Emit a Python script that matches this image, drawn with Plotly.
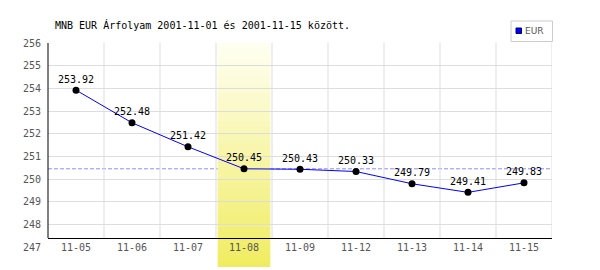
import plotly.graph_objects as go

# ---- data ----
dates = ["11-05", "11-06", "11-07", "11-08", "11-09", "11-12", "11-13", "11-14", "11-15"]
rates = [253.92, 252.48, 251.42, 250.45, 250.43, 250.33, 249.79, 249.41, 249.83]
labels = ["253.92", "252.48", "251.42", "250.45", "250.43", "250.33", "249.79", "249.41", "249.83"]
highlight_date = "11-08"
reference_rate = 250.45
y_ticks = [247, 248, 249, 250, 251, 252, 253, 254, 255, 256]
title_text = "MNB EUR Árfolyam 2001-11-01 és 2001-11-15 között."
series_name = "EUR"

# ---- geometry (pixels) ----
W, H = 600, 270
L, R, T, B = 48, 48, 43, 23
PW, PH = W - L - R, H - T - B
AXIS_PX = 238  # black x-axis line


def px_to_paper_y(py):
    return (H - B - py) / PH


def px_to_paper_x(px):
    return (px - L) / PW


ymin, ymax = y_ticks[0], y_ticks[-1]
axis_val = ymin + (H - B - AXIS_PX) / PH * (ymax - ymin)

MONO = "DejaVu Sans Mono"

fig = go.Figure()
fig.add_trace(go.Scatter(
    x=dates, y=rates,
    mode="lines+markers",
    line=dict(color="#0000ff", width=1),
    marker=dict(color="black", size=7),
    cliponaxis=False, showlegend=False, hoverinfo="skip",
))

shapes = []
# dashed reference line
shapes.append(dict(type="line", xref="paper", yref="y", x0=0, x1=1,
                   y0=reference_rate, y1=reference_rate, layer="between",
                   line=dict(color="#8c8cff", width=1, dash="4px,2px")))
# vertical grid lines at category boundaries
n = len(dates)
for k in range(1, n + 1):
    shapes.append(dict(type="line", xref="x", yref="y", x0=k - 0.5, x1=k - 0.5,
                       y0=axis_val, y1=ymax, layer="between",
                       line=dict(color="#dddddd", width=1)))
# gradient highlight band
hi = dates.index(highlight_date)
top_c = (0xff, 0xff, 0xf2)
bot_c = (0xf0, 0xec, 0x60)
band_top, band_bot = T, 267
steps = 40
for i in range(steps):
    f = (i + 0.5) / steps
    c = tuple(round(top_c[j] + (bot_c[j] - top_c[j]) * f) for j in range(3))
    py0 = band_top + (band_bot - band_top) * i / steps
    py1 = band_top + (band_bot - band_top) * (i + 1) / steps + 0.6
    shapes.append(dict(type="rect", xref="x", yref="paper",
                       x0=hi - 0.47, x1=hi + 0.47,
                       y0=px_to_paper_y(min(py1, band_bot)), y1=px_to_paper_y(py0),
                       layer="between", line=dict(width=0),
                       fillcolor="rgb(%d,%d,%d)" % c))
# y-axis black line
shapes.append(dict(type="line", xref="paper", yref="y", x0=0, x1=0,
                   y0=axis_val, y1=ymax, layer="above",
                   line=dict(color="black", width=1)))
# legend box + swatch
shapes.append(dict(type="rect", xref="paper", yref="paper",
                   x0=px_to_paper_x(511), x1=px_to_paper_x(552.5),
                   y0=px_to_paper_y(41.5), y1=px_to_paper_y(21),
                   line=dict(color="#cccccc", width=1), fillcolor="white"))
shapes.append(dict(type="rect", xref="paper", yref="paper",
                   x0=px_to_paper_x(516), x1=px_to_paper_x(521.5),
                   y0=px_to_paper_y(33.5), y1=px_to_paper_y(28),
                   line=dict(color="#000066", width=1), fillcolor="#0000ff"))

annotations = [
    dict(text=title_text, xref="paper", yref="paper",
         x=px_to_paper_x(53), y=px_to_paper_y(25), xanchor="left", yanchor="middle",
         showarrow=False, font=dict(family=MONO, size=10, color="black")),
    dict(text=series_name, xref="paper", yref="paper",
         x=px_to_paper_x(523), y=px_to_paper_y(31), xanchor="left", yanchor="middle",
         showarrow=False, font=dict(family="DejaVu Sans", size=9, color="#555555")),
]
# value labels above each point
for d, v, t in zip(dates, rates, labels):
    annotations.append(dict(text=t, x=d, y=v, xref="x", yref="y",
                            xanchor="center", yanchor="middle", yshift=11,
                            showarrow=False,
                            font=dict(family=MONO, size=10, color="black")))

fig.update_layout(
    width=W, height=H,
    margin=dict(l=L, r=R, t=T, b=B, pad=0),
    paper_bgcolor="white", plot_bgcolor="white",
    shapes=shapes, annotations=annotations,
    xaxis=dict(type="category", categoryorder="array", categoryarray=dates,
               range=[-0.5, n - 0.5], anchor="free",
               position=px_to_paper_y(AXIS_PX),
               showline=True, linecolor="black", linewidth=1,
               showgrid=False, zeroline=False, ticks="",
               tickfont=dict(family=MONO, size=10, color="#555555")),
    yaxis=dict(range=[ymin, ymax], tickvals=y_ticks,
               ticktext=[str(v) for v in y_ticks],
               showgrid=True, gridcolor="#dddddd", gridwidth=1,
               zeroline=False, showline=False, ticks="",
               ticklabelstandoff=6,
               tickfont=dict(family=MONO, size=10, color="#555555")),
    showlegend=False,
)

fig.write_html("out.html")
